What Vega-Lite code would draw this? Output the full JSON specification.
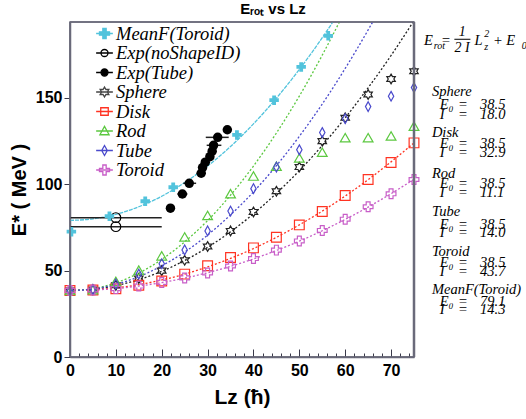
{
"$schema": "https://vega.github.io/schema/vega-lite/v6.json",
"width": 344, "height": 335,
"autosize": {"type": "none"},
"padding": {"left": 70, "top": 22, "right": 112, "bottom": 62},
"background": "white",
"title": {"text": "Eᵣₒₜ vs Lz", "fontSize": 15, "font": "Liberation Sans", "fontWeight": "bold", "anchor": "middle", "dx": 31, "offset": 4, "color": "black"},
"config": {
  "view": {"stroke": "#6a6a7a", "strokeWidth": 1.5},
  "axis": {"grid": false, "domain": true, "domainColor": "#6a6a7a", "domainWidth": 1.5, "ticks": true, "tickColor": "#3a3a4a", "tickWidth": 1, "labelFont": "Liberation Sans", "labelFontWeight": "bold", "labelFontSize": 16, "labelColor": "black", "titleFont": "Liberation Sans", "titleFontWeight": "bold", "titleColor": "black", "labelOverlap": false, "labelBound": false},
  "legend": {"orient": "none", "legendX": 25, "legendY": 2, "labelFont": "Liberation Serif", "labelFontStyle": "italic", "labelFontSize": 18.5, "labelColor": "black", "symbolSize": 280, "symbolStrokeWidth": 1.3, "symbolOpacity": 1, "rowPadding": 0.5, "labelOffset": 2, "padding": 0}
},
"datasets": {
  "fits": [
    {"series":"Sphere","L":0,"E":38.5},{"series":"Sphere","L":5,"E":39.2},{"series":"Sphere","L":10,"E":41.3},{"series":"Sphere","L":15,"E":44.8},{"series":"Sphere","L":20,"E":49.6},{"series":"Sphere","L":25,"E":55.9},{"series":"Sphere","L":30,"E":63.5},{"series":"Sphere","L":35,"E":72.5},{"series":"Sphere","L":40,"E":82.9},{"series":"Sphere","L":45,"E":94.8},{"series":"Sphere","L":50,"E":107.9},{"series":"Sphere","L":55,"E":122.5},{"series":"Sphere","L":60,"E":138.5},{"series":"Sphere","L":65,"E":155.9},{"series":"Sphere","L":70,"E":174.6},{"series":"Sphere","L":75,"E":194.8},
    {"series":"Disk","L":0,"E":38.5},{"series":"Disk","L":5,"E":38.9},{"series":"Disk","L":10,"E":40.0},{"series":"Disk","L":15,"E":41.9},{"series":"Disk","L":20,"E":44.6},{"series":"Disk","L":25,"E":48.0},{"series":"Disk","L":30,"E":52.2},{"series":"Disk","L":35,"E":57.1},{"series":"Disk","L":40,"E":62.8},{"series":"Disk","L":45,"E":69.3},{"series":"Disk","L":50,"E":76.5},{"series":"Disk","L":55,"E":84.5},{"series":"Disk","L":60,"E":93.2},{"series":"Disk","L":65,"E":102.7},{"series":"Disk","L":70,"E":113.0},{"series":"Disk","L":75,"E":124.0},
    {"series":"Toroid","L":0,"E":38.5},{"series":"Toroid","L":5,"E":38.8},{"series":"Toroid","L":10,"E":39.6},{"series":"Toroid","L":15,"E":41.1},{"series":"Toroid","L":20,"E":43.1},{"series":"Toroid","L":25,"E":45.7},{"series":"Toroid","L":30,"E":48.8},{"series":"Toroid","L":35,"E":52.5},{"series":"Toroid","L":40,"E":56.8},{"series":"Toroid","L":45,"E":61.7},{"series":"Toroid","L":50,"E":67.1},{"series":"Toroid","L":55,"E":73.1},{"series":"Toroid","L":60,"E":79.7},{"series":"Toroid","L":65,"E":86.8},{"series":"Toroid","L":70,"E":94.6},{"series":"Toroid","L":75,"E":102.9},
    {"series":"Rod","L":0,"E":38.5},{"series":"Rod","L":5,"E":39.6},{"series":"Rod","L":10,"E":43.0},{"series":"Rod","L":15,"E":48.6},{"series":"Rod","L":20,"E":56.5},{"series":"Rod","L":25,"E":66.7},{"series":"Rod","L":30,"E":79.0},{"series":"Rod","L":35,"E":93.7},{"series":"Rod","L":40,"E":110.6},{"series":"Rod","L":45,"E":129.7},{"series":"Rod","L":50,"E":151.1},{"series":"Rod","L":55,"E":174.8},{"series":"Rod","L":60,"E":200.7},
    {"series":"Tube","L":0,"E":38.5},{"series":"Tube","L":5,"E":39.4},{"series":"Tube","L":10,"E":42.1},{"series":"Tube","L":15,"E":46.5},{"series":"Tube","L":20,"E":52.8},{"series":"Tube","L":25,"E":60.8},{"series":"Tube","L":30,"E":70.6},{"series":"Tube","L":35,"E":82.3},{"series":"Tube","L":40,"E":95.6},{"series":"Tube","L":45,"E":110.8},{"series":"Tube","L":50,"E":127.8},{"series":"Tube","L":55,"E":146.5},{"series":"Tube","L":60,"E":167.1},{"series":"Tube","L":65,"E":189.4},{"series":"Tube","L":70,"E":213.5},
    {"series":"MeanF(Toroid)","L":0,"E":79.1},{"series":"MeanF(Toroid)","L":5,"E":80.0},{"series":"MeanF(Toroid)","L":10,"E":82.6},{"series":"MeanF(Toroid)","L":15,"E":87.0},{"series":"MeanF(Toroid)","L":20,"E":93.1},{"series":"MeanF(Toroid)","L":25,"E":101.0},{"series":"MeanF(Toroid)","L":30,"E":110.6},{"series":"MeanF(Toroid)","L":35,"E":121.9},{"series":"MeanF(Toroid)","L":40,"E":135.0},{"series":"MeanF(Toroid)","L":45,"E":149.9},{"series":"MeanF(Toroid)","L":50,"E":166.5},{"series":"MeanF(Toroid)","L":55,"E":184.9},{"series":"MeanF(Toroid)","L":60,"E":205.0}
  ],
  "points": [
    {"series":"MeanF(Toroid)","L":0.3,"E":72.6},{"series":"MeanF(Toroid)","L":8.6,"E":81.5},{"series":"MeanF(Toroid)","L":16.4,"E":90.2},{"series":"MeanF(Toroid)","L":22.5,"E":98.3},{"series":"MeanF(Toroid)","L":36.4,"E":128.6},{"series":"MeanF(Toroid)","L":44.5,"E":148.7},{"series":"MeanF(Toroid)","L":50.4,"E":168.0},{"series":"MeanF(Toroid)","L":56.3,"E":186.0},
    {"series":"Exp(noShapeID)","L":10,"E":80.7},{"series":"Exp(noShapeID)","L":10,"E":75.5},
    {"series":"Exp(Tube)","L":21.9,"E":86.2},{"series":"Exp(Tube)","L":24.5,"E":94.4},{"series":"Exp(Tube)","L":26.0,"E":100.6},{"series":"Exp(Tube)","L":28.6,"E":106.4},{"series":"Exp(Tube)","L":28.9,"E":109.7},{"series":"Exp(Tube)","L":29.5,"E":112.8},{"series":"Exp(Tube)","L":30.5,"E":116.0},{"series":"Exp(Tube)","L":31.0,"E":119.2},{"series":"Exp(Tube)","L":31.3,"E":122.6},{"series":"Exp(Tube)","L":32.2,"E":127.2},{"series":"Exp(Tube)","L":34.3,"E":131.6},
    {"series":"Sphere","L":0,"E":38.5},{"series":"Sphere","L":5,"E":39.0},{"series":"Sphere","L":10,"E":41.5},{"series":"Sphere","L":15,"E":45.5},{"series":"Sphere","L":20,"E":50.0},{"series":"Sphere","L":25,"E":56.0},{"series":"Sphere","L":30,"E":64.0},{"series":"Sphere","L":35,"E":73.0},{"series":"Sphere","L":40,"E":84.0},{"series":"Sphere","L":45,"E":96.0},{"series":"Sphere","L":50,"E":110.0},{"series":"Sphere","L":55,"E":125.0},{"series":"Sphere","L":60,"E":138.5},{"series":"Sphere","L":65,"E":152.0},{"series":"Sphere","L":70,"E":161.0},{"series":"Sphere","L":75,"E":165.5},
    {"series":"Disk","L":0,"E":38.5},{"series":"Disk","L":5,"E":38.8},{"series":"Disk","L":10,"E":39.5},{"series":"Disk","L":15,"E":41.6},{"series":"Disk","L":20,"E":44.0},{"series":"Disk","L":25,"E":48.0},{"series":"Disk","L":30,"E":52.8},{"series":"Disk","L":35,"E":57.6},{"series":"Disk","L":40,"E":63.2},{"series":"Disk","L":45,"E":69.3},{"series":"Disk","L":50,"E":76.5},{"series":"Disk","L":55,"E":84.3},{"series":"Disk","L":60,"E":93.5},{"series":"Disk","L":65,"E":102.8},{"series":"Disk","L":70,"E":112.6},{"series":"Disk","L":75,"E":124.0},
    {"series":"Rod","L":0,"E":38.5},{"series":"Rod","L":5,"E":39.0},{"series":"Rod","L":10,"E":43.8},{"series":"Rod","L":15,"E":50.3},{"series":"Rod","L":20,"E":58.6},{"series":"Rod","L":25,"E":69.5},{"series":"Rod","L":30,"E":82.0},{"series":"Rod","L":35,"E":94.6},{"series":"Rod","L":40,"E":104.8},{"series":"Rod","L":45,"E":110.5},{"series":"Rod","L":50,"E":115.3},{"series":"Rod","L":55,"E":118.6},{"series":"Rod","L":60,"E":127.0},{"series":"Rod","L":65,"E":127.0},{"series":"Rod","L":70,"E":128.0},{"series":"Rod","L":75,"E":133.7},
    {"series":"Tube","L":0,"E":38.5},{"series":"Tube","L":5,"E":39.0},{"series":"Tube","L":10,"E":42.3},{"series":"Tube","L":15,"E":48.0},{"series":"Tube","L":20,"E":54.0},{"series":"Tube","L":25,"E":62.0},{"series":"Tube","L":30,"E":73.0},{"series":"Tube","L":35,"E":84.5},{"series":"Tube","L":40,"E":97.5},{"series":"Tube","L":45,"E":110.0},{"series":"Tube","L":50,"E":120.0},{"series":"Tube","L":55,"E":130.0},{"series":"Tube","L":60,"E":138.0},{"series":"Tube","L":65,"E":145.0},{"series":"Tube","L":70,"E":151.0},{"series":"Tube","L":75,"E":156.0},
    {"series":"Toroid","L":0,"E":38.5},{"series":"Toroid","L":5,"E":38.8},{"series":"Toroid","L":10,"E":39.6},{"series":"Toroid","L":15,"E":41.1},{"series":"Toroid","L":20,"E":43.2},{"series":"Toroid","L":25,"E":45.8},{"series":"Toroid","L":30,"E":48.7},{"series":"Toroid","L":35,"E":52.7},{"series":"Toroid","L":40,"E":57.0},{"series":"Toroid","L":45,"E":61.9},{"series":"Toroid","L":50,"E":67.2},{"series":"Toroid","L":55,"E":73.3},{"series":"Toroid","L":60,"E":79.8},{"series":"Toroid","L":65,"E":87.0},{"series":"Toroid","L":70,"E":94.5},{"series":"Toroid","L":75,"E":102.8}
  ],
  "errs": [
    {"series":"Exp(noShapeID)","E":80.7,"lo":0,"hi":20},{"series":"Exp(noShapeID)","E":75.5,"lo":0,"hi":20},
    {"series":"Exp(Tube)","E":94.4,"lo":23.4,"hi":25.6},{"series":"Exp(Tube)","E":100.6,"lo":24.7,"hi":27.5},{"series":"Exp(Tube)","E":106.4,"lo":27.6,"hi":29.6},{"series":"Exp(Tube)","E":122.6,"lo":29.8,"hi":33.0},{"series":"Exp(Tube)","E":127.2,"lo":29.6,"hi":34.6}
  ],
  "legend": [
    {"series":"MeanF(Toroid)"},{"series":"Exp(noShapeID)"},{"series":"Exp(Tube)"},{"series":"Sphere"},{"series":"Disk"},{"series":"Rod"},{"series":"Tube"},{"series":"Toroid"}
  ],
  "notes": [
    {"role":"main","L":77.2,"E":183.0,"t":"E"},{"role":"main","L":80.9,"E":183.0,"t":"="},{"role":"main","L":88.2,"E":183.0,"t":"L"},{"role":"main","L":92.2,"E":183.0,"t":"+ E"},
    {"role":"small","L":79.3,"E":180.3,"t":"rot"},{"role":"small","L":90.3,"E":187.0,"t":"2"},{"role":"small","L":90.3,"E":179.6,"t":"z"},{"role":"small","L":98.5,"E":180.3,"t":"0"},
    {"role":"frac","L":85.5,"E":188.4,"t":"1"},{"role":"frac","L":85.5,"E":179.0,"t":"2 I"},
    {"role":"main","L":78.9,"E":153.7,"t":"Sphere"},{"role":"main","L":80.6,"E":146.0,"t":"E₀"},{"role":"main","L":84.6,"E":146.0,"t":"="},{"role":"main","L":89.4,"E":146.0,"t":"38.5"},{"role":"main","L":80.6,"E":140.2,"t":"I"},{"role":"main","L":84.6,"E":140.2,"t":"="},{"role":"main","L":89.4,"E":140.2,"t":"18.0"},
    {"role":"main","L":78.9,"E":129.6,"t":"Disk"},{"role":"main","L":80.6,"E":123.2,"t":"E₀"},{"role":"main","L":84.6,"E":123.2,"t":"="},{"role":"main","L":89.4,"E":123.2,"t":"38.5"},{"role":"main","L":80.6,"E":118.0,"t":"I"},{"role":"main","L":84.6,"E":118.0,"t":"="},{"role":"main","L":89.4,"E":118.0,"t":"32.9"},
    {"role":"main","L":78.9,"E":106.0,"t":"Rod"},{"role":"main","L":80.6,"E":100.1,"t":"E₀"},{"role":"main","L":84.6,"E":100.1,"t":"="},{"role":"main","L":89.4,"E":100.1,"t":"38.5"},{"role":"main","L":80.6,"E":94.8,"t":"I"},{"role":"main","L":84.6,"E":94.8,"t":"="},{"role":"main","L":89.4,"E":94.8,"t":"11.1"},
    {"role":"main","L":78.9,"E":83.7,"t":"Tube"},{"role":"main","L":80.6,"E":76.5,"t":"E₀"},{"role":"main","L":84.6,"E":76.5,"t":"="},{"role":"main","L":89.4,"E":76.5,"t":"38.5"},{"role":"main","L":80.6,"E":71.7,"t":"I"},{"role":"main","L":84.6,"E":71.7,"t":"="},{"role":"main","L":89.4,"E":71.7,"t":"14.0"},
    {"role":"main","L":78.9,"E":61.0,"t":"Toroid"},{"role":"main","L":80.6,"E":54.3,"t":"E₀"},{"role":"main","L":84.6,"E":54.3,"t":"="},{"role":"main","L":89.4,"E":54.3,"t":"38.5"},{"role":"main","L":80.6,"E":49.4,"t":"I"},{"role":"main","L":84.6,"E":49.4,"t":"="},{"role":"main","L":89.4,"E":49.4,"t":"43.7"},
    {"role":"main","L":78.9,"E":38.8,"t":"MeanF(Toroid)"},{"role":"main","L":80.6,"E":32.0,"t":"E₀"},{"role":"main","L":84.6,"E":32.0,"t":"="},{"role":"main","L":89.4,"E":32.0,"t":"79.1"},{"role":"main","L":80.6,"E":27.2,"t":"I"},{"role":"main","L":84.6,"E":27.2,"t":"="},{"role":"main","L":89.4,"E":27.2,"t":"14.3"}
  ],
  "fracbar": [{"lo":83.8,"hi":87.3,"E":184.0}],
  "one": [{}]
},
"resolve": {"scale": {"shape": "independent", "fill": "independent", "stroke": "independent"}, "axis": {"x": "independent"}},
"layer": [
  {
    "data": {"name": "fits"},
    "mark": {"type": "line", "strokeWidth": 1.3, "clip": true, "interpolate": "monotone"},
    "encoding": {
      "x": {"field": "L", "type": "quantitative", "scale": {"domain": [0, 75], "nice": false, "zero": false},
            "axis": {"orient": "bottom", "values": [0,10,20,30,40,50,60,70], "tickSize": -8, "labelPadding": 13, "title": "Lz (ħ)", "titleFontSize": 21, "titlePadding": 8, "labelFlush": false}},
      "y": {"field": "E", "type": "quantitative", "scale": {"domain": [0, 194], "nice": false, "zero": true},
            "axis": {"values": [0,50,100,150], "tickSize": 6, "labelPadding": 2, "title": "E* ( MeV )", "titleFontSize": 20, "titlePadding": 6, "labelFlush": false}},
      "color": {"field": "series", "type": "nominal", "legend": null,
                "scale": {"domain": ["MeanF(Toroid)","Exp(noShapeID)","Exp(Tube)","Sphere","Disk","Rod","Tube","Toroid"], "range": ["#52c3dc","#000000","#000000","#222222","#ff3322","#5cc840","#4a4acc","#c85ec8"]}},
      "strokeDash": {"field": "series", "type": "nominal", "legend": null,
                "scale": {"domain": ["MeanF(Toroid)","Sphere","Disk","Rod","Tube","Toroid"], "range": [[4,1],[2,2],[2,2],[2,2],[2,2],[2,2]]}}
    }
  },
  {
    "data": {"name": "errs"},
    "mark": {"type": "rule", "strokeWidth": 1.5, "color": "#222222"},
    "encoding": {
      "x": {"field": "lo", "type": "quantitative", "axis": null},
      "x2": {"field": "hi"},
      "y": {"field": "E", "type": "quantitative"}
    }
  },
  {
    "data": {"name": "points"},
    "transform": [{"filter": {"field": "series", "oneOf": ["Exp(noShapeID)","Sphere","Disk","Rod","Tube","Toroid"]}}],
    "mark": {"type": "point", "filled": false, "opacity": 1, "strokeWidth": 1.2, "size": 95},
    "encoding": {
      "x": {"field": "L", "type": "quantitative", "axis": null},
      "y": {"field": "E", "type": "quantitative"},
      "color": {"field": "series", "type": "nominal", "legend": null},
      "shape": {"field": "series", "type": "nominal", "legend": null,
                "scale": {"domain": ["Exp(noShapeID)","Sphere","Disk","Rod","Tube","Toroid"],
                          "range": ["circle", "M0,-1L0.289,-0.5L0.866,-0.5L0.577,0L0.866,0.5L0.289,0.5L0,1L-0.289,0.5L-0.866,0.5L-0.577,0L-0.866,-0.5L-0.289,-0.5Z", "square", "triangle-up", "M0,-1L0.55,0L0,1L-0.55,0Z", "cross"]}}
    }
  },
  {
    "data": {"name": "points"},
    "transform": [{"filter": {"field": "series", "oneOf": ["MeanF(Toroid)","Exp(Tube)"]}}],
    "mark": {"type": "point", "filled": true, "opacity": 1, "size": 90},
    "encoding": {
      "x": {"field": "L", "type": "quantitative", "axis": null},
      "y": {"field": "E", "type": "quantitative"},
      "color": {"field": "series", "type": "nominal", "legend": null},
      "shape": {"field": "series", "type": "nominal", "legend": null,
                "scale": {"domain": ["MeanF(Toroid)","Exp(Tube)"], "range": ["cross", "circle"]}}
    }
  },
  {
    "data": {"name": "legend"},
    "mark": {"type": "point", "opacity": 0},
    "encoding": {
      "shape": {"field": "series", "type": "nominal", "legend": {"title": null},
                "scale": {"domain": ["MeanF(Toroid)","Exp(noShapeID)","Exp(Tube)","Sphere","Disk","Rod","Tube","Toroid"],
                          "range": [
                            "M-0.6,-0.2H-0.2V-0.6H0.2V-0.2H0.6V0.2H0.2V0.6H-0.2V0.2H-0.6Z M-1,0H1",
                            "M0.42,0A0.42,0.42 0 1,1 -0.42,0A0.42,0.42 0 1,1 0.42,0Z M-1,0H1",
                            "M0.42,0A0.42,0.42 0 1,1 -0.42,0A0.42,0.42 0 1,1 0.42,0Z M-1,0H1",
                            "M0,-0.6L0.173,-0.3L0.52,-0.3L0.346,0L0.52,0.3L0.173,0.3L0,0.6L-0.173,0.3L-0.52,0.3L-0.346,0L-0.52,-0.3L-0.173,-0.3Z M-1,0H1",
                            "M-0.45,-0.45H0.45V0.45H-0.45Z M-1,0H1",
                            "M0,-0.55L0.55,0.45L-0.55,0.45Z M-1,0H1",
                            "M0,-0.6L0.33,0L0,0.6L-0.33,0Z M-1,0H1",
                            "M-0.6,-0.2H-0.2V-0.6H0.2V-0.2H0.6V0.2H0.2V0.6H-0.2V0.2H-0.6Z M-1,0H1"]}},
      "stroke": {"field": "series", "type": "nominal", "legend": {"title": null},
                "scale": {"domain": ["MeanF(Toroid)","Exp(noShapeID)","Exp(Tube)","Sphere","Disk","Rod","Tube","Toroid"], "range": ["#52c3dc","#000000","#000000","#444444","#ff3322","#5cc840","#4a4acc","#c85ec8"]}},
      "fill": {"field": "series", "type": "nominal", "legend": {"title": null},
                "scale": {"domain": ["MeanF(Toroid)","Exp(noShapeID)","Exp(Tube)","Sphere","Disk","Rod","Tube","Toroid"], "range": ["#52c3dc","transparent","#000000","transparent","transparent","transparent","transparent","transparent"]}}
    }
  },
  {
    "data": {"name": "notes"},
    "transform": [{"filter": {"field": "role", "equal": "main"}}],
    "mark": {"type": "text", "align": "left", "baseline": "middle", "font": "Liberation Serif", "fontStyle": "italic", "fontSize": 14.5, "color": "black"},
    "encoding": {
      "x": {"field": "L", "type": "quantitative", "axis": null},
      "y": {"field": "E", "type": "quantitative"},
      "text": {"field": "t"}
    }
  },
  {
    "data": {"name": "notes"},
    "transform": [{"filter": {"field": "role", "equal": "small"}}],
    "mark": {"type": "text", "align": "left", "baseline": "middle", "font": "Liberation Serif", "fontStyle": "italic", "fontSize": 10, "color": "black"},
    "encoding": {
      "x": {"field": "L", "type": "quantitative", "axis": null},
      "y": {"field": "E", "type": "quantitative"},
      "text": {"field": "t"}
    }
  },
  {
    "data": {"name": "notes"},
    "transform": [{"filter": {"field": "role", "equal": "frac"}}],
    "mark": {"type": "text", "align": "center", "baseline": "middle", "font": "Liberation Serif", "fontStyle": "italic", "fontSize": 14, "color": "black"},
    "encoding": {
      "x": {"field": "L", "type": "quantitative", "axis": null},
      "y": {"field": "E", "type": "quantitative"},
      "text": {"field": "t"}
    }
  },
  {
    "data": {"name": "fracbar"},
    "mark": {"type": "rule", "strokeWidth": 1, "color": "black"},
    "encoding": {
      "x": {"field": "lo", "type": "quantitative", "axis": null},
      "x2": {"field": "hi"},
      "y": {"field": "E", "type": "quantitative"}
    }
  },
  {
    "data": {"name": "points"},
    "mark": {"type": "point", "opacity": 0},
    "encoding": {
      "x": {"field": "L", "type": "quantitative",
            "axis": {"orient": "bottom", "values": [2,4,6,8,12,14,16,18,22,24,26,28,32,34,36,38,42,44,46,48,52,54,56,58,62,64,66,68,72,74], "tickSize": -4, "labels": false, "domain": false, "title": null}},
      "y": {"field": "E", "type": "quantitative"}
    }
  },
  {
    "data": {"name": "one"},
    "mark": {"type": "rule", "color": "#6a6a7a", "strokeWidth": 1.5},
    "encoding": {"x": {"datum": 0, "type": "quantitative", "axis": null}}
  },
  {
    "data": {"name": "one"},
    "mark": {"type": "rule", "color": "#6a6a7a", "strokeWidth": 2.5},
    "encoding": {"x": {"datum": 75, "type": "quantitative", "axis": null}}
  },
  {
    "data": {"name": "one"},
    "mark": {"type": "rule", "color": "#6a6a7a", "strokeWidth": 1.5},
    "encoding": {"y": {"datum": 0, "type": "quantitative"}}
  },
  {
    "data": {"name": "one"},
    "mark": {"type": "rule", "color": "#6a6a7a", "strokeWidth": 1.5},
    "encoding": {"y": {"datum": 194, "type": "quantitative"}}
  }
]
}
